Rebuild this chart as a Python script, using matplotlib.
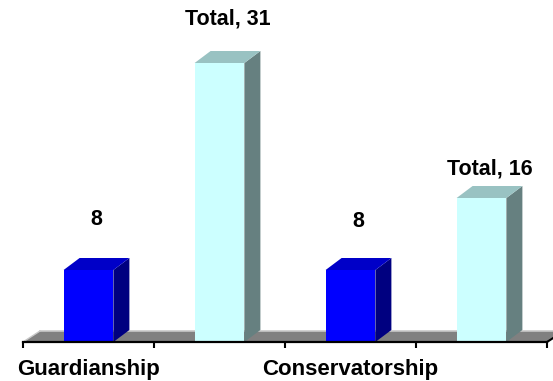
import numpy as np
import matplotlib.pyplot as plt
import matplotlib.transforms as mtransforms
from matplotlib.patches import Polygon

plt.rcParams['font.family'] = ['Liberation Sans', 'DejaVu Sans']

# one bar per category slot, blank slots carry the totals
categories = ['Guardianship', '', 'Conservatorship', '']
values = [8, 31, 8, 16]
labels = ['8', 'Total, 31', '8', 'Total, 16']
label_offsets = [5.6, 4.9, 5.4, 3.2]

front_colors = ['#0000FF', '#CCFFFF', '#0000FF', '#CCFFFF']
side_colors = ['#000080', '#668080', '#000080', '#668080']
top_colors = ['#0000C8', '#99C2C2', '#0000C8', '#99C2C2']

W, H = 553, 381
fig = plt.figure(figsize=(W / 100, H / 100), dpi=100)
ax_left, ax_right, ax_base = 23, 547, 342
ax = fig.add_axes([ax_left / W, (H - ax_base) / H, (ax_right - ax_left) / W, ax_base / H])

n = len(categories)
ymax = 38.0
ax.set_xlim(0, n)
ax.set_ylim(0, ymax)

# depth offset of the 3d look, in pixels converted to data units
px_x = n / (ax_right - ax_left)
px_y = ymax / ax_base
dx, dy = 16 * px_x, 12 * px_y
fdx, fdy = 17 * px_x, 11 * px_y

# floor
floor = Polygon([(0, 0), (n, 0), (n + fdx, fdy), (fdx, fdy)], closed=True,
                facecolor='#808080', edgecolor='none', clip_on=False, zorder=1)
ax.add_patch(floor)
ax.plot([fdx, n + fdx], [fdy, fdy], color='#C8C8C8', lw=1.2, clip_on=False, zorder=1.1)
ax.plot([0, fdx], [0, fdy], color='#C8C8C8', lw=1.0, clip_on=False, zorder=1.1)
ax.plot([n, n + fdx], [0, fdy], color='black', lw=1.5, clip_on=False, zorder=1.1)

bar_w = 0.38
x = np.arange(n) + 0.5
for xi, v, fc, sc, tc in zip(x, values, front_colors, side_colors, top_colors):
    l, r = xi - bar_w / 2, xi + bar_w / 2
    side = Polygon([(r, 0), (r + dx, dy), (r + dx, v + dy), (r, v)], closed=True,
                   facecolor=sc, edgecolor='none', zorder=2)
    top = Polygon([(l, v), (r, v), (r + dx, v + dy), (l + dx, v + dy)], closed=True,
                  facecolor=tc, edgecolor='none', zorder=2)
    ax.add_patch(side)
    ax.add_patch(top)
ax.bar(x, values, width=bar_w, color=front_colors, zorder=3)

for xi, v, lab, off in zip(x, values, labels, label_offsets):
    ax.text(xi + dx / 2, v + off, lab, ha='center', va='center',
            fontsize=15.5, fontweight='bold', color='black')

for s in ['top', 'right', 'left']:
    ax.spines[s].set_visible(False)
ax.spines['bottom'].set_linewidth(1.6)
ax.spines['bottom'].set_zorder(4)
ax.set_yticks([])
ax.set_xticks(np.arange(n + 1))
ax.set_xticklabels([])
ax.tick_params(axis='x', which='major', length=4.5, width=1.5, direction='out')

# category names below the axis, baseline a few pixels above the bottom edge
trans = mtransforms.blended_transform_factory(ax.transData, fig.transFigure)
for xi, name in zip(x, categories):
    if name:
        ax.text(xi, 6.5 / H, name, transform=trans, ha='center', va='baseline',
                fontsize=16, fontweight='bold', color='black', clip_on=False)

fig.savefig('out.png', dpi=100)
